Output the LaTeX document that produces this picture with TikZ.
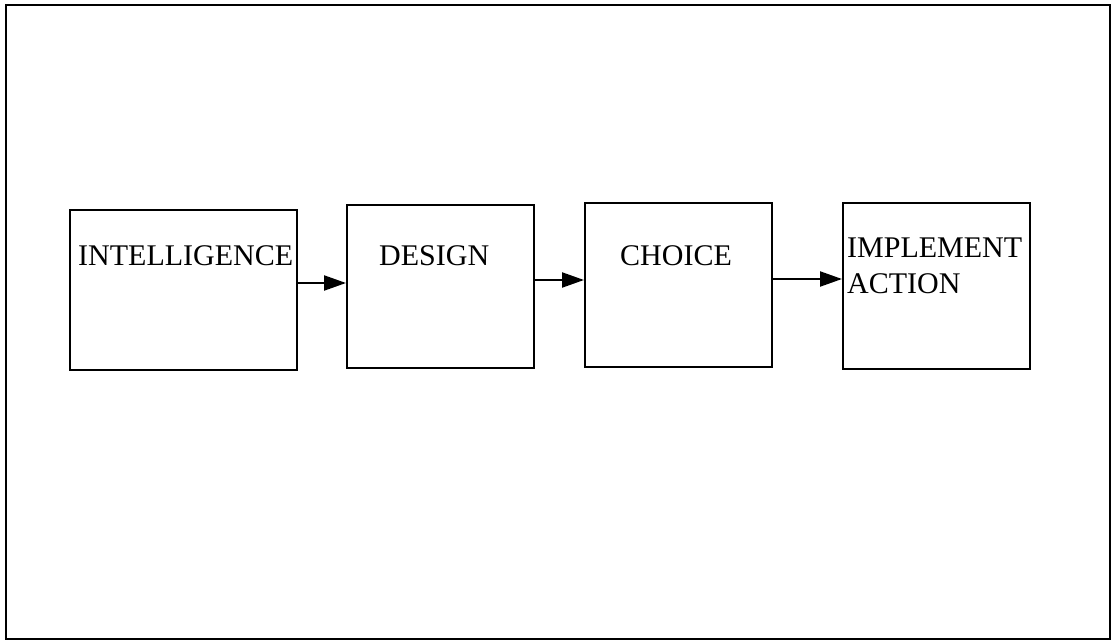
\documentclass[tikz,border=0pt]{standalone}
\usepackage{fontspec}
\setmainfont{Liberation Serif}
\usetikzlibrary{arrows.meta}
\begin{document}
\begin{tikzpicture}[x=1pt,y=-1pt,
  stagebox/.style={draw=black,line width=2pt,inner sep=0pt},
  stagetext/.style={anchor=base west,inner sep=0pt,font=\fontsize{30}{36}\selectfont,align=left},
  flow/.style={line width=2.2pt,-{Triangle[length=22pt,width=15pt]}}]
  \useasboundingbox (0,0) rectangle (1115,642);
  % outer frame
  \draw[line width=2.4pt] (6,5) rectangle (1110,639);
  % stage boxes
  \node[stagebox,minimum width=227pt,minimum height=160pt] (intel) at (183.5,290) {};
  \node[stagebox,minimum width=187pt,minimum height=163pt] (design) at (440.5,286.5) {};
  \node[stagebox,minimum width=187pt,minimum height=164pt] (choice) at (678.5,285) {};
  \node[stagebox,minimum width=187pt,minimum height=166pt] (impl) at (936.5,286) {};
  % labels
  \node[stagetext] (tintel) at (78,265) {INTELLIGENCE};
  \node[stagetext] (tdesign) at (379,265) {DESIGN};
  \node[stagetext] (tchoice) at (620,265) {CHOICE};
  \node[stagetext] (timpl) at (847,293) {IMPLEMENT\\ACTION};
  % flow arrows
  \draw[flow] (intel.east |- 0,283) -- (design.west |- 0,283);
  \draw[flow] (design.east |- 0,280) -- (choice.west |- 0,280);
  \draw[flow] (choice.east |- 0,279) -- (impl.west |- 0,279);
\end{tikzpicture}
\end{document}
